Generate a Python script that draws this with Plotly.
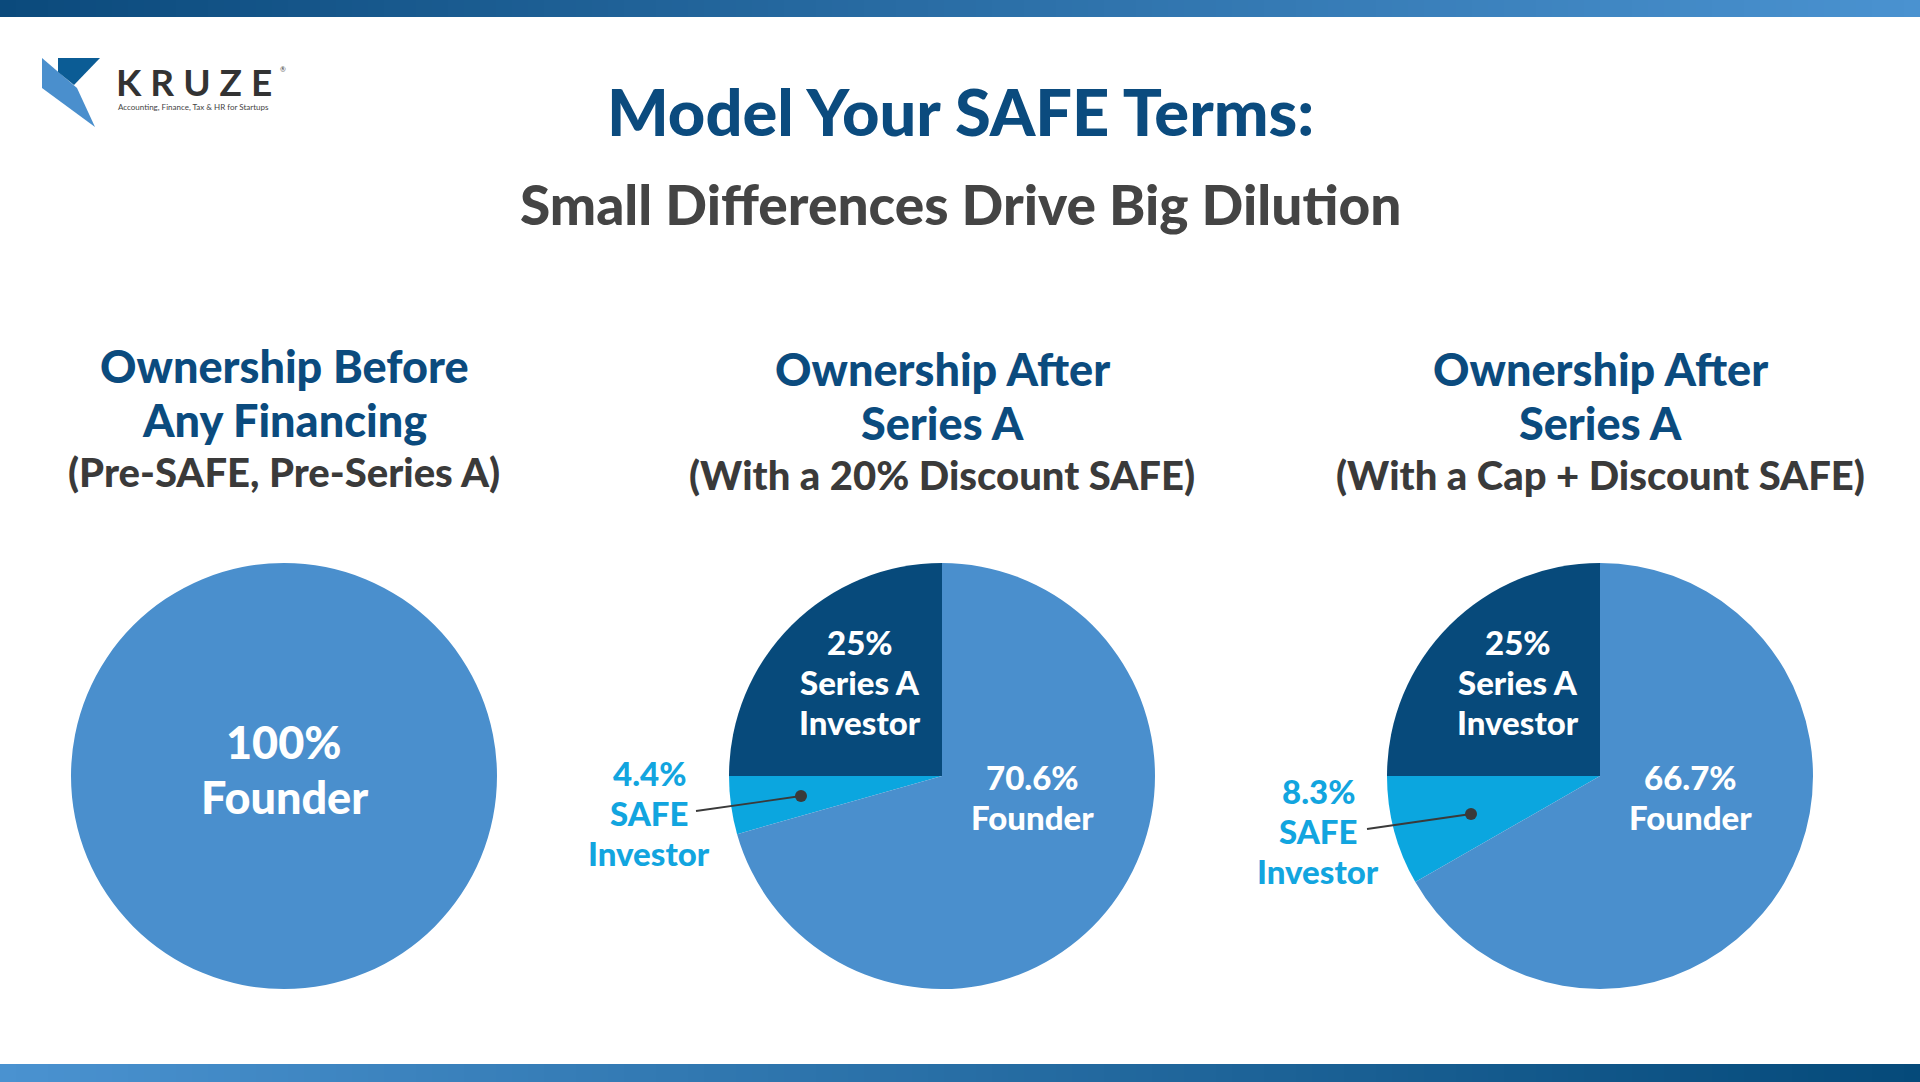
import plotly.graph_objects as go

W, H = 1920, 1082

# data
slice_labels = ["Series A Investor", "SAFE Investor", "Founder"]
before_values = [0, 0, 100]
discount_values = [25, 4.4, 70.6]
cap_values = [25, 8.3, 66.7]

panel_titles = [
    ("Ownership Before<br>Any Financing", "(Pre-SAFE, Pre-Series A)"),
    ("Ownership After<br>Series A", "(With a 20% Discount SAFE)"),
    ("Ownership After<br>Series A", "(With a Cap + Discount SAFE)"),
]

slice_colors = ["#074a7b", "#0ba6df", "#4a8fcd"]
DARK_BLUE = "#0b4b7e"
GRAY = "#444444"
FONT = "Lato"
WEIGHT = 900

centers = [(284, 776), (942, 776), (1600, 776)]
R = 213


def dom(cx, cy, r):
    return dict(x=[(cx - r) / W, (cx + r) / W], y=[1 - (cy + r) / H, 1 - (cy - r) / H])


fig = go.Figure()

# invisible full-page axis in pixel units for decorations
fig.add_trace(go.Scatter(x=[0, W], y=[0, H], mode="markers", marker=dict(opacity=0),
                         hoverinfo="skip", showlegend=False))

for vals, (cx, cy) in zip([before_values, discount_values, cap_values], centers):
    fig.add_trace(go.Pie(
        labels=slice_labels, values=vals, sort=False, direction="counterclockwise",
        rotation=-90, marker=dict(colors=slice_colors, line=dict(width=0)),
        textinfo="none", hoverinfo="label+percent", showlegend=False,
        domain=dom(cx, cy, R),
    ))

shapes = []
annotations = []


def text(x, y, s, size, color, xanchor="center"):
    annotations.append(dict(x=x, y=y, xref="x", yref="y", text=s, showarrow=False,
                            xanchor=xanchor, yanchor="middle",
                            font=dict(family=FONT, size=size, color=color, weight=WEIGHT)))


# gradient bars top and bottom
def hexmix(c1, c2, t):
    a = [int(c1[i:i + 2], 16) for i in (1, 3, 5)]
    b = [int(c2[i:i + 2], 16) for i in (1, 3, 5)]
    return "#%02x%02x%02x" % tuple(round(a[k] + (b[k] - a[k]) * t) for k in range(3))


n = 120
for i in range(n):
    x0 = W * i / n
    x1 = W * (i + 1) / n + 1
    t = i / (n - 1)
    shapes.append(dict(type="rect", xref="x", yref="y", x0=x0, x1=x1, y0=0, y1=17,
                       line=dict(width=0), fillcolor=hexmix("#0b4a7c", "#4a92d0", t), layer="below"))
    shapes.append(dict(type="rect", xref="x", yref="y", x0=x0, x1=x1, y0=1064, y1=H,
                       line=dict(width=0), fillcolor=hexmix("#4a92d0", "#054a7a", t), layer="below"))

# logo
shapes.append(dict(type="path", xref="x", yref="y",
                   path="M 42 58 L 77 88 L 95 127 L 42 88 Z",
                   fillcolor="#4a8fcd", line=dict(width=0)))
shapes.append(dict(type="path", xref="x", yref="y",
                   path="M 58 72 L 58 58 L 100 58 L 74 85 Z",
                   fillcolor="#0b5c95", line=dict(width=0)))
annotations.append(dict(x=114, y=81, xref="x", yref="y", text="K R U Z E", showarrow=False,
                        xanchor="left", yanchor="middle",
                        font=dict(family=FONT, size=37, color="#333333", weight="bold")))
annotations.append(dict(x=116, y=107, xref="x", yref="y",
                        text="Accounting, Finance, Tax & HR for Startups", showarrow=False,
                        xanchor="left", yanchor="middle",
                        font=dict(family=FONT, size=8, color="#444444")))
annotations.append(dict(x=278, y=69, xref="x", yref="y", text="®", showarrow=False,
                        xanchor="left", yanchor="middle",
                        font=dict(family=FONT, size=7, color="#444444")))

# headline
text(960, 111, "Model Your SAFE Terms:", 65, DARK_BLUE)
text(960, 204, "Small Differences Drive Big Dilution", 55, GRAY)

# panel headers
for (head, sub), (cx, cy), top in zip(panel_titles, centers, [366, 369, 369]):
    l1, l2 = head.split("<br>")
    text(cx, top, l1, 45, DARK_BLUE)
    text(cx, top + 54, l2, 45, DARK_BLUE)
    text(cx, top + 106, sub, 40, "#3a3a3a")

# slice labels
text(284, 742, "100%", 45, "white")
text(284, 797, "Founder", 45, "white")

for (cx, cy), vals, sdot, stail, slab in [
    (centers[1], discount_values, (801, 796), (696, 811), (649, 773)),
    (centers[2], cap_values, (1471, 814), (1367, 829), (1318, 791)),
]:
    text(cx - 82, 642, f"{vals[0]:g}%", 33, "white")
    text(cx - 82, 682, "Series A", 33, "white")
    text(cx - 82, 722, "Investor", 33, "white")
    text(cx + 90, 777, f"{vals[2]:g}%", 33, "white")
    text(cx + 90, 817, "Founder", 33, "white")
    lx, ly = slab
    text(lx, ly, f"{vals[1]:g}%", 33, "#12a5df")
    text(lx, ly + 40, "SAFE", 33, "#12a5df")
    text(lx, ly + 80, "Investor", 33, "#12a5df")
    shapes.append(dict(type="line", xref="x", yref="y", x0=stail[0], y0=stail[1],
                       x1=sdot[0], y1=sdot[1], line=dict(color="#3a3a3a", width=1.8)))
    shapes.append(dict(type="circle", xref="x", yref="y", x0=sdot[0] - 6, x1=sdot[0] + 6,
                       y0=sdot[1] - 6, y1=sdot[1] + 6, fillcolor="#3a3a3a", line=dict(width=0)))

fig.update_layout(
    width=W, height=H,
    margin=dict(l=0, r=0, t=0, b=0),
    paper_bgcolor="white", plot_bgcolor="white",
    xaxis=dict(range=[0, W], visible=False, fixedrange=True, domain=[0, 1]),
    yaxis=dict(range=[H, 0], visible=False, fixedrange=True, domain=[0, 1]),
    shapes=shapes, annotations=annotations,
    font=dict(family=FONT),
)

fig.write_html("out.html", config={"displayModeBar": False},
               post_script="document.body.style.margin='0';")
